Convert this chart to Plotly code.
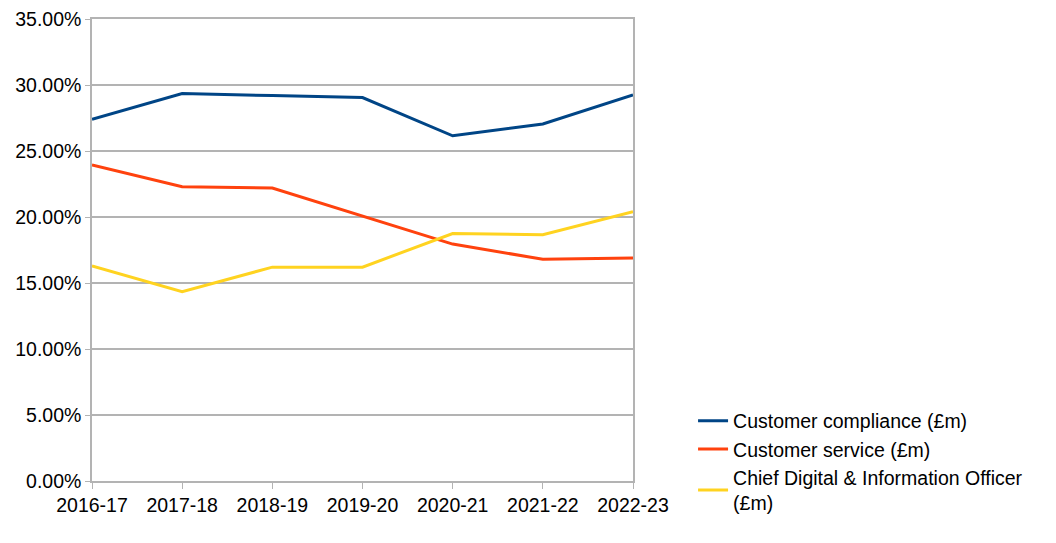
import plotly.graph_objects as go

years = ["2016-17", "2017-18", "2018-19", "2019-20", "2020-21", "2021-22", "2022-23"]
compliance = [27.4, 29.35, 29.2, 29.05, 26.15, 27.05, 29.25]
service = [23.95, 22.3, 22.2, 20.05, 17.95, 16.8, 16.9]
cdio = [16.3, 14.35, 16.2, 16.2, 18.75, 18.65, 20.4]
y_ticks = [0, 5, 10, 15, 20, 25, 30, 35]

names = ["Customer compliance (£m)", "Customer service (£m)", "Chief Digital & Information Officer<br>(£m)"]
colors = ["#004586", "#ff420e", "#ffd320"]

fig = go.Figure()
for name, vals, col in zip(names, [compliance, service, cdio], colors):
    fig.add_trace(go.Scatter(x=list(range(len(years))), y=vals, mode="lines", name=name,
                             line=dict(color=col, width=3)))

font = dict(family="Liberation Sans, Arial, sans-serif", size=19.5, color="#000000")
fig.update_layout(
    width=1048, height=535,
    margin=dict(l=84, r=423, t=11, b=62, autoexpand=False),
    paper_bgcolor="white", plot_bgcolor="white",
    font=font,
    showlegend=True,
    legend=dict(x=1.111, y=0.172, xanchor="left", yanchor="top", font=font,
                bgcolor="rgba(0,0,0,0)", tracegroupgap=0, itemwidth=30),
)
fig.update_xaxes(
    range=[0, len(years) - 1], tickmode="array", tickvals=list(range(len(years))), ticktext=years,
    showgrid=False, showline=True, linecolor="#b3b3b3", linewidth=1.5, mirror=True,
    ticks="outside", ticklen=6, tickcolor="#b3b3b3", zeroline=False, automargin=False,
    ticklabeloverflow="allow",
)
fig.update_yaxes(
    range=[0, 35], tickmode="array", tickvals=y_ticks, ticktext=[f"{v:.2f}%" for v in y_ticks],
    showgrid=True, gridcolor="#b3b3b3", gridwidth=1.5, showline=True, linecolor="#b3b3b3", linewidth=1.5,
    mirror=True, ticks="outside", ticklen=5, tickcolor="#b3b3b3", zeroline=False, automargin=False,
    ticklabeloverflow="allow",
)
fig.write_html("out.html")
